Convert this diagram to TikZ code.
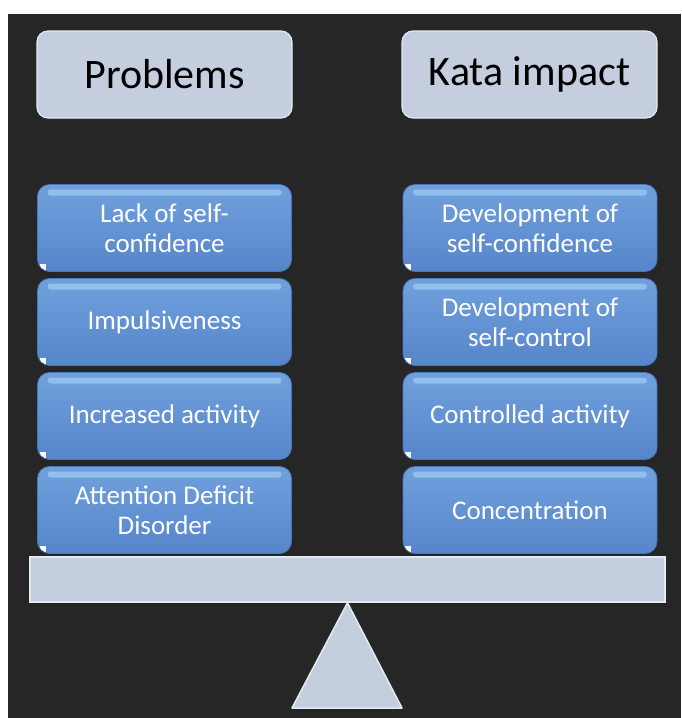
\documentclass[tikz,border=0pt]{standalone}
\usepackage{fontspec}
\setmainfont{Carlito}
\usepackage{tikz}

\definecolor{bgdark}{RGB}{38,38,38}
\definecolor{panel}{RGB}{196,206,222}
\definecolor{panelrim}{RGB}{228,234,242}
\definecolor{boxtop}{RGB}{112,160,220}
\definecolor{boxmid}{RGB}{98,146,212}
\definecolor{boxbot}{RGB}{86,134,202}
\definecolor{boxrim}{RGB}{72,118,186}
\definecolor{shine}{RGB}{170,215,250}

\begin{document}
\begin{tikzpicture}[x=1pt,y=-1pt,
		hdr/.style={rectangle,rounded corners=11pt,minimum width=255pt,minimum height=87pt,
			fill=panel,draw=panelrim,line width=1.2pt,font=\fontsize{42}{46}\selectfont},
		itembox/.style={rectangle,rounded corners=12pt,minimum width=254pt,minimum height=87pt,
			top color=boxtop,middle color=boxmid,bottom color=boxbot,draw=boxrim,line width=0.8pt,
			text=white,align=center,inner sep=0pt,font=\fontsize{27}{30}\selectfont,
			path picture={\fill[shine,opacity=.6,rounded corners=3pt]
				([xshift=10pt,yshift=-5pt]path picture bounding box.north west) rectangle
				([xshift=-10pt,yshift=-11pt]path picture bounding box.north east);
				\fill[white,sharp corners] ([xshift=2pt,yshift=2pt]path picture bounding box.south west) rectangle
				([xshift=8pt,yshift=8pt]path picture bounding box.south west);}}]
	\useasboundingbox (0,0) rectangle (681,718);
	\fill[white] (0,0) rectangle (681,718);
	\fill[bgdark] (8,14) rectangle (681,718);

	\node[hdr] (problems) at (164.5,74.5) {Problems};
	\node[hdr] (kata) at (529.5,74.5) {Kata impact};

	\node[itembox] (confL) at (164.5,228) {Lack of self-\\confidence};
	\node[itembox] (impL) at (164.5,322) {Impulsiveness};
	\node[itembox] (actL) at (164.5,416) {Increased activity};
	\node[itembox] (addL) at (164.5,510) {Attention Deficit\\Disorder};

	\node[itembox] (confR) at (530,228) {Development of\\self-confidence};
	\node[itembox] (ctrlR) at (530,322) {Development of\\self-control};
	\node[itembox] (actR) at (530,416) {Controlled activity};
	\node[itembox] (concR) at (530,510) {Concentration};

	\node[rectangle,fill=panel,draw=panelrim,line width=1.5pt,minimum width=635pt,minimum height=45pt,
		inner sep=0pt] (beam) at (347.5,579.5) {};
	\draw[fill=panel,draw=panelrim,line width=1.5pt,line join=round]
		(beam.south) -- (402,708) -- (292,708) -- cycle;
\end{tikzpicture}
\end{document}
